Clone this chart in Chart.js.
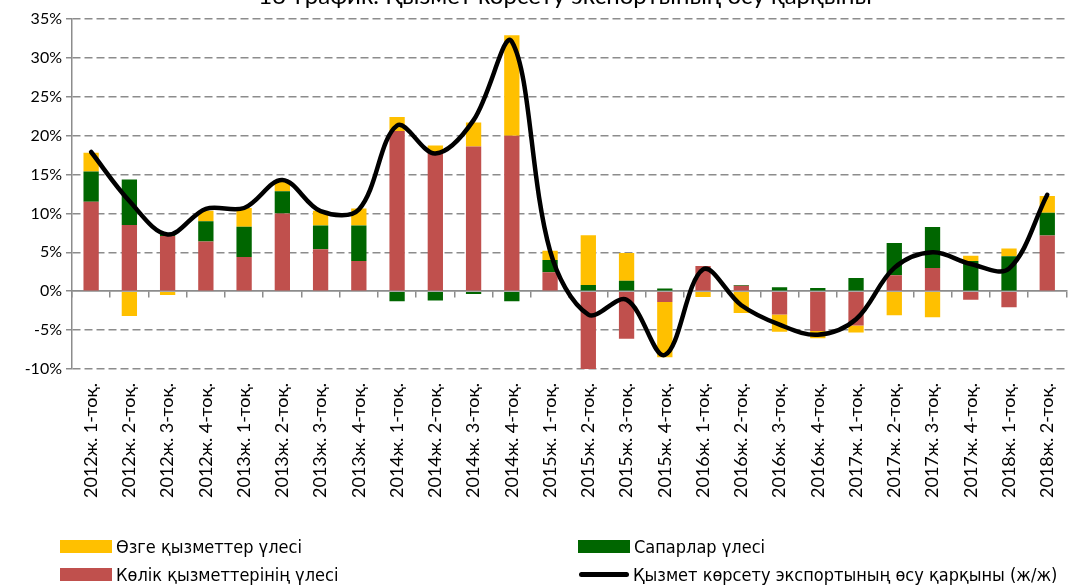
<!DOCTYPE html>
<html>
<head>
<meta charset="utf-8">
<script src="https://cdn.jsdelivr.net/npm/chart.js@4/dist/chart.umd.min.js"></script>
<style>
  body { margin: 0; background: #fff; }
  #wrap { position: relative; width: 1083px; height: 586px; overflow: hidden; }
  #legend { position: absolute; left: 0; top: 0; width: 1083px; height: 586px; pointer-events: none;
            font-family: "Liberation Sans Narrow", "DejaVu Sans Condensed", sans-serif; font-size: 18px; color: #000; }
  .item { position: absolute; display: flex; align-items: center; white-space: nowrap; }
  .box { width: 52px; height: 13px; margin-right: 4px; }
  .ln { width: 50px; height: 5px; border-radius: 3px; margin-right: 4px; margin-left: 1px; }
</style>
</head>
<body>
<div id="wrap">
  <canvas id="chart" width="1083" height="586"></canvas>
  <div id="legend"></div>
</div>
<script>
// данные
var chartTitle = "16-график. Қызмет көрсету экспортының өсу қарқыны";
var quarters = [
  "2012ж. 1-тоқ.", "2012ж. 2-тоқ.", "2012ж. 3-тоқ.", "2012ж. 4-тоқ.",
  "2013ж. 1-тоқ.", "2013ж. 2-тоқ.", "2013ж. 3-тоқ.", "2013ж. 4-тоқ.",
  "2014ж. 1-тоқ.", "2014ж. 2-тоқ.", "2014ж. 3-тоқ.", "2014ж. 4-тоқ.",
  "2015ж. 1-тоқ.", "2015ж. 2-тоқ.", "2015ж. 3-тоқ.", "2015ж. 4-тоқ.",
  "2016ж. 1-тоқ.", "2016ж. 2-тоқ.", "2016ж. 3-тоқ.", "2016ж. 4-тоқ.",
  "2017ж. 1-тоқ.", "2017ж. 2-тоқ.", "2017ж. 3-тоқ.", "2017ж. 4-тоқ.",
  "2018ж. 1-тоқ.", "2018ж. 2-тоқ."
];
var transportShare = [11.5, 8.5, 7.1, 6.4, 4.4, 10.0, 5.4, 3.9, 20.6, 17.9, 18.6, 20.0, 2.45, -10.1, -6.1, -1.4, 3.25, 0.7, -3.0, -5.1, -4.4, 2.05, 3.0, -1.1, -2.05, 7.15];
var travelShare = [3.9, 5.85, 0.3, 2.6, 3.9, 2.85, 3.05, 4.55, -1.3, -1.2, -0.35, -1.3, 1.55, 0.8, 1.35, 0.35, 0, 0.1, 0.5, 0.4, 1.7, 4.15, 5.25, 3.9, 4.5, 2.95];
var otherShare = [2.4, -3.2, -0.5, 1.35, 2.4, 1.2, 1.9, 2.2, 1.8, 0.85, 3.1, 12.9, 1.2, 6.4, 3.55, -7.1, -0.75, -2.8, -2.2, -0.95, -0.9, -3.1, -3.35, 0.65, 1.0, 2.15];
var exportGrowth = [17.9, 11.6, 7.3, 10.6, 10.7, 14.3, 10.3, 10.5, 21.3, 17.7, 22.0, 32.1, 5.2, -3.0, -1.1, -8.2, 2.8, -1.8, -4.3, -5.6, -3.6, 3.0, 5.0, 3.5, 2.9, 12.4];
var yTicks = [-10, -5, 0, 5, 10, 15, 20, 25, 30, 35];

var gridGray = "#8c8c8c";
var tickFont = { family: "Lato, 'Noto Sans', sans-serif", size: 16 };

// заголовок, обрезанный сверху
var titlePlugin = {
  id: "cutTitle",
  afterDraw: function(chart) {
    var c = chart.ctx;
    c.save();
    c.font = "24px Lato, 'Noto Sans', sans-serif";
    c.fillStyle = "#000";
    c.textAlign = "center";
    c.textBaseline = "alphabetic";
    c.fillText(chartTitle, 565, 4);
    c.restore();
  }
};

var ctx = document.getElementById("chart").getContext("2d");
var chart = new Chart(ctx, {
  data: {
    labels: quarters,
    datasets: [
      { type: "line", label: "Қызмет көрсету экспортының өсу қарқыны (ж/ж)", data: exportGrowth,
        borderColor: "#000", backgroundColor: "#000", borderWidth: 4.5, pointRadius: 0,
        tension: 0.35, borderCapStyle: "round", order: 0, stack: "line" },
      { type: "bar", label: "Көлік қызметтерінің үлесі", data: transportShare, backgroundColor: "#C0504D", order: 1 },
      { type: "bar", label: "Сапарлар үлесі", data: travelShare, backgroundColor: "#006600", order: 1 },
      { type: "bar", label: "Өзге қызметтер үлесі", data: otherShare, backgroundColor: "#FFC000", order: 1 }
    ]
  },
  options: {
    responsive: false,
    animation: false,
    devicePixelRatio: 1,
    layout: { padding: { top: 19, right: 7, left: 0, bottom: 0 } },
    datasets: { bar: { barPercentage: 0.4, categoryPercentage: 1.0 } },
    plugins: { legend: { display: false }, tooltip: { enabled: false } },
    scales: {
      x: {
        stacked: true,
        offset: true,
        grid: { display: false, drawTicks: false },
        border: { display: false },
        ticks: { minRotation: 90, maxRotation: 90, autoSkip: false, padding: 14, color: "#000",
                 font: { family: "Lato, 'Noto Sans', sans-serif", size: 18 } },
        afterFit: function(s) { s.height = 217; }
      },
      x0: {
        type: "category",
        position: { y: 0 },
        offset: true,
        grid: { offset: true, drawOnChartArea: false, drawTicks: true, tickLength: 6, color: gridGray, lineWidth: 1.5 },
        border: { display: true, color: gridGray, width: 1.5 },
        ticks: { display: false }
      },
      y: {
        stacked: true,
        min: -10, max: 35,
        afterBuildTicks: function(s) { s.ticks = yTicks.map(function(v) { return { value: v }; }); },
        ticks: { color: "#000", font: tickFont, padding: 4, callback: function(v) { return v + "%"; } },
        grid: { color: gridGray, lineWidth: 1.5, tickLength: 6, tickColor: gridGray,
                tickBorderDash: [] },
        border: { display: true, color: gridGray, width: 1.5,
                  dash: function(c) { return (c.tick && c.tick.value === 0) ? [] : [8, 4]; } },
        afterFit: function(s) { s.width = 72; }
      }
    }
  },
  plugins: [titlePlugin]
});

// легенда в две колонки
var legendOrder = [
  { ds: 3, left: 60, top: 540 },
  { ds: 2, left: 578, top: 540 },
  { ds: 1, left: 60, top: 568 },
  { ds: 0, left: 578, top: 568 }
];
var legendBox = document.getElementById("legend");
legendOrder.forEach(function(it) {
  var d = chart.data.datasets[it.ds];
  var el = document.createElement("div");
  el.className = "item";
  el.style.left = it.left + "px";
  el.style.top = (it.top - 4) + "px";
  var mark = document.createElement("span");
  if (d.type === "line") { mark.className = "ln"; mark.style.background = d.borderColor; }
  else { mark.className = "box"; mark.style.background = d.backgroundColor; }
  var txt = document.createElement("span");
  txt.textContent = d.label;
  el.appendChild(mark);
  el.appendChild(txt);
  legendBox.appendChild(el);
});
</script>
</body>
</html>
